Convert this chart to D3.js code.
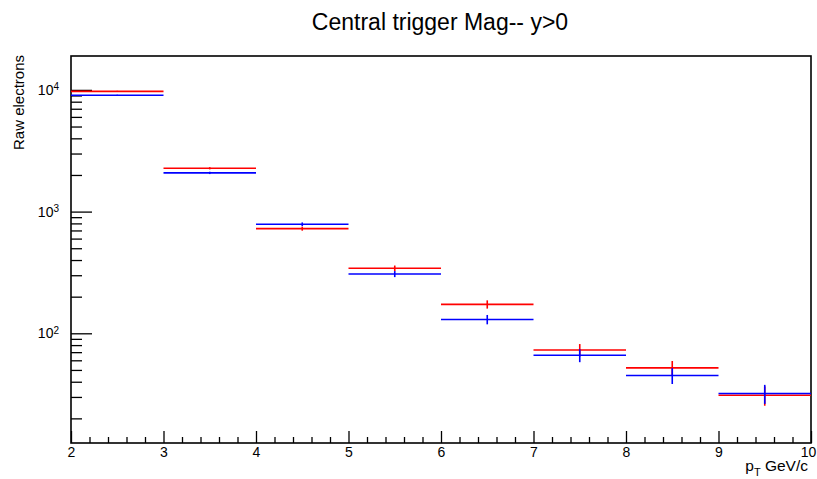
<!DOCTYPE html>
<html>
<head>
<meta charset="utf-8">
<script src="https://cdn.jsdelivr.net/npm/d3@7"></script>
<style>
  body { margin: 0; background: #fff; }
  svg { display: block; font-family: "Liberation Sans", Arial, sans-serif; }
</style>
</head>
<body>
<div class="chart"></div>
<script>
// bin lower edges (width 1 GeV/c)
const binLows = [2, 3, 4, 5, 6, 7, 8, 9]
const binWidth = 1
// raw electron counts
const redValues = [9730, 2270, 724, 342, 173, 73, 52, 31]
const redErrors = [99, 48, 27, 18.5, 13.5, 8.6, 7.2, 5.6]
const blueValues = [9030, 2080, 787, 307, 130, 66, 45, 32]
const blueErrors = [95, 46, 28, 17.5, 11.5, 8.1, 6.7, 5.7]
// axis ticks
const xMajor = [2, 3, 4, 5, 6, 7, 8, 9, 10]
const yMajor = [100, 1000, 10000]
const yMinor = [20, 30, 40, 50, 60, 70, 80, 90,
  200, 300, 400, 500, 600, 700, 800, 900,
  2000, 3000, 4000, 5000, 6000, 7000, 8000, 9000]

const width = 817, height = 479
const margin = {top: 56, right: 6, bottom: 36, left: 71}

const x = d3.scaleLinear()
  .domain([2, 10])
  .range([margin.left, width - margin.right])

const y = d3.scaleLog()
  .domain([12.55, 18990])
  .range([height - margin.bottom, margin.top])

const xMinor = d3.range(20, 101, 2).map(d => d / 10).filter(d => !xMajor.includes(d))

const svg = d3.select('.chart').append('svg')
  .attr('width', width)
  .attr('height', height)
  .attr('viewBox', [0, 0, width, height])

// title
svg.append('text')
  .attr('x', 440)
  .attr('y', 30)
  .attr('text-anchor', 'middle')
  .attr('font-size', 23)
  .attr('fill', '#000')
  .text('Central trigger Mag-- y>0')

// axes, ticks pointing into the frame
const gx = svg.append('g')
  .attr('transform', `translate(0,${height - margin.bottom})`)
gx.append('g')
  .call(d3.axisBottom(x).tickValues(xMinor).tickSizeInner(-6).tickSizeOuter(0).tickFormat(''))
gx.append('g')
  .call(d3.axisBottom(x).tickValues(xMajor).tickSizeInner(-12).tickSizeOuter(0).tickPadding(4).tickFormat(d3.format('d')))
gx.selectAll('.domain').remove()
gx.selectAll('line').attr('stroke', '#000').attr('stroke-width', 1.3)
gx.selectAll('text').attr('font-size', 14).attr('fill', '#000')
  .attr('font-family', '"Liberation Sans", Arial, sans-serif')
// last label pulled inside the canvas
gx.selectAll('.tick text').filter(d => d === 10).attr('x', -3)

const gy = svg.append('g')
  .attr('transform', `translate(${margin.left},0)`)
gy.append('g')
  .call(d3.axisLeft(y).tickValues(yMinor).tickSizeInner(-11).tickSizeOuter(0).tickFormat(''))
gy.append('g')
  .attr('class', 'ymajor')
  .call(d3.axisLeft(y).tickValues(yMajor).tickSizeInner(-21).tickSizeOuter(0).tickPadding(12).tickFormat(''))
gy.selectAll('.domain').remove()
gy.selectAll('line').attr('stroke', '#000').attr('stroke-width', 1.3)

// log labels 10^n
gy.select('.ymajor').selectAll('.tick text')
  .attr('font-size', 14)
  .attr('fill', '#000')
  .attr('font-family', '"Liberation Sans", Arial, sans-serif')
  .each(function (d) {
    const t = d3.select(this)
    t.append('tspan').text('10')
    t.append('tspan').attr('dy', '-0.45em').attr('font-size', 10).text(Math.round(Math.log10(d)))
  })

// frame
svg.append('rect')
  .attr('x', margin.left)
  .attr('y', margin.top)
  .attr('width', width - margin.left - margin.right)
  .attr('height', height - margin.top - margin.bottom)
  .attr('fill', 'none')
  .attr('stroke', '#000')
  .attr('stroke-width', 1.6)

// axis titles
svg.append('text')
  .attr('transform', `translate(24,${margin.top - 1}) rotate(-90)`)
  .attr('text-anchor', 'end')
  .attr('font-size', 15)
  .attr('fill', '#000')
  .text('Raw electrons')

const xt = svg.append('text')
  .attr('x', width - 9)
  .attr('y', 471)
  .attr('text-anchor', 'end')
  .attr('font-size', 15.5)
  .attr('fill', '#000')
xt.append('tspan').text('p')
xt.append('tspan').attr('dy', 5).attr('font-size', 11).text('T')
xt.append('tspan').attr('dy', -5).text(' GeV/c')

// histograms with error bars
const drawHist = (values, errors, color) => {
  const data = values.map((v, i) => ({lo: binLows[i], v: v, e: errors[i]}))
  const g = svg.append('g')
    .attr('stroke', color)
    .attr('stroke-width', 1.6)
  g.selectAll('line.h')
    .data(data)
    .join('line')
      .attr('class', 'h')
      .attr('x1', d => x(d.lo))
      .attr('x2', d => x(d.lo + binWidth))
      .attr('y1', d => y(d.v))
      .attr('y2', d => y(d.v))
  g.selectAll('line.e')
    .data(data)
    .join('line')
      .attr('class', 'e')
      .attr('x1', d => x(d.lo + binWidth / 2))
      .attr('x2', d => x(d.lo + binWidth / 2))
      .attr('y1', d => y(d.v + d.e))
      .attr('y2', d => y(d.v - d.e))
}

drawHist(redValues, redErrors, '#ff0000')
drawHist(blueValues, blueErrors, '#0000ff')
</script>
</body>
</html>
